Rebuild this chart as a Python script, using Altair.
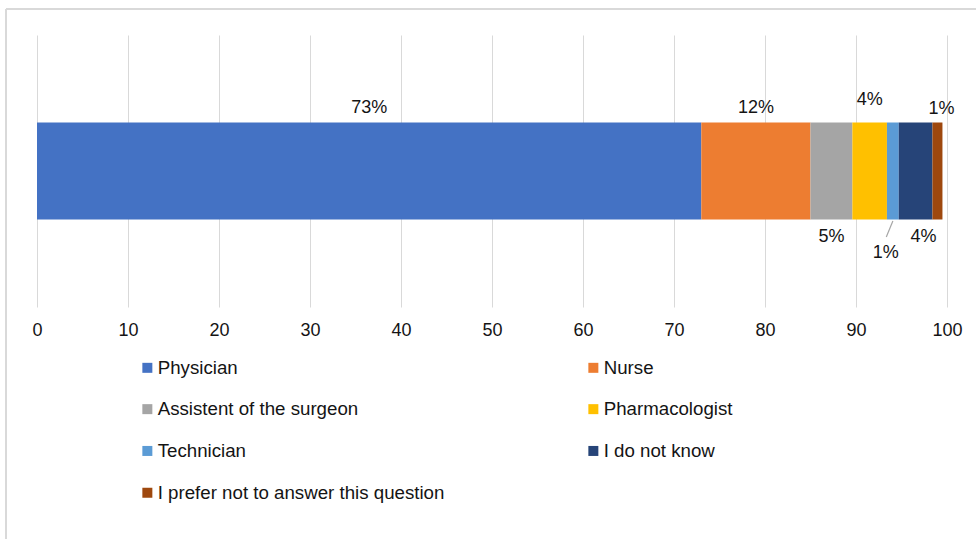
import altair as alt
import pandas as pd

# Share of respondents by role (percent)
roles = [
    "Physician",
    "Nurse",
    "Assistent of the surgeon",
    "Pharmacologist",
    "Technician",
    "I do not know",
    "I prefer not to answer this question",
]
shares = [73.0, 12.0, 4.6, 3.8, 1.3, 3.7, 1.1]
role_colors = ["#4472C4", "#ED7D31", "#A5A5A5", "#FFC000", "#5B9BD5", "#264478", "#9E480E"]
x_ticks = [0, 10, 20, 30, 40, 50, 60, 70, 80, 90, 100]

# Label placement around the bar (pixel nudges from the segment centre)
label_dx = {"Technician": -7, "I do not know": 8, "I prefer not to answer this question": 4}
label_dy = {
    "Physician": -58,
    "Nurse": -58,
    "Assistent of the surgeon": 71,
    "Pharmacologist": -66,
    "Technician": 87,
    "I do not know": 71,
    "I prefer not to answer this question": -57,
}

FONT = "Liberation Sans"
TEXT = "#141414"
GRID = "#D9D9D9"

df = pd.DataFrame({"role": roles, "share": shares, "idx": list(range(len(roles))), "group": "all"})

base = (
    alt.Chart(df)
    .transform_stack(stack="share", groupby=["group"], as_=["x0", "x1"], sort=[alt.SortField("idx")])
    .transform_calculate(mid="(datum.x0 + datum.x1) / 2", label="format(datum.share, '.0f') + '%'")
)

y_enc = alt.Y("group:N", axis=None, title=None)
x_scale = alt.Scale(domain=[0, 100], nice=False)

bars = base.mark_bar(size=97).encode(
    x=alt.X(
        "x0:Q",
        title=None,
        scale=x_scale,
        axis=alt.Axis(
            values=x_ticks,
            grid=True,
            gridColor=GRID,
            gridWidth=1,
            domain=False,
            ticks=False,
            labelFont=FONT,
            labelFontSize=18,
            labelColor=TEXT,
            labelPadding=14,
            labelFlush=False,
        ),
    ),
    x2="x1:Q",
    y=y_enc,
    color=alt.Color(
        "role:N",
        scale=alt.Scale(domain=roles, range=role_colors),
        legend=alt.Legend(
            title=None,
            orient="none",
            direction="horizontal",
            legendX=101,
            legendY=323,
            columns=2,
            columnPadding=139,
            rowPadding=21.8,
            symbolType="square",
            symbolSize=100,
            symbolStrokeWidth=0,
            symbolOffset=0,
            labelOffset=1,
            labelFont=FONT,
            labelFontSize=18.7,
            labelColor=TEXT,
            labelLimit=400,
            padding=0,
        ),
    ),
    order=alt.Order("idx:Q"),
)

label_layers = []
for r in roles:
    label_layers.append(
        base.transform_filter(alt.datum.role == r)
        .mark_text(
            font=FONT,
            fontSize=18,
            color=TEXT,
            baseline="alphabetic",
            align="center",
            dx=label_dx.get(r, 0),
            dy=label_dy[r],
        )
        .encode(x=alt.X("mid:Q", scale=x_scale), y=y_enc, text="label:N")
    )

# Leader line for the small "Technician" label
leader = (
    base.transform_filter(alt.datum.role == "Technician")
    .transform_calculate(lx="datum.mid - 0.72")
    .mark_rule(color="#A6A6A6", strokeWidth=1.2)
    .encode(
        x=alt.X("mid:Q", scale=x_scale),
        x2="lx:Q",
        y=alt.value(186),
        y2=alt.value(202),
    )
)

# Chart frame: top and left edges
frame_top = alt.Chart(df).mark_rule(color=GRID, strokeWidth=1.5).encode(
    x=alt.value(-31), x2=alt.value(939), y=alt.value(-26)
)
frame_left = alt.Chart(df).mark_rule(color=GRID, strokeWidth=1.5).encode(
    x=alt.value(-31), y=alt.value(-26), y2=alt.value(504)
)

chart = (
    alt.layer(frame_top, frame_left, bars, leader, *label_layers)
    .properties(
        width=910,
        height=272,
        background="white",
        autosize=alt.AutoSizeParams(type="none"),
        padding={"left": 37, "top": 35, "right": 29, "bottom": 232},
    )
    .configure_view(stroke=None, strokeWidth=0)
)

chart.save("out.html", embed_options={"renderer": "svg", "actions": False})
